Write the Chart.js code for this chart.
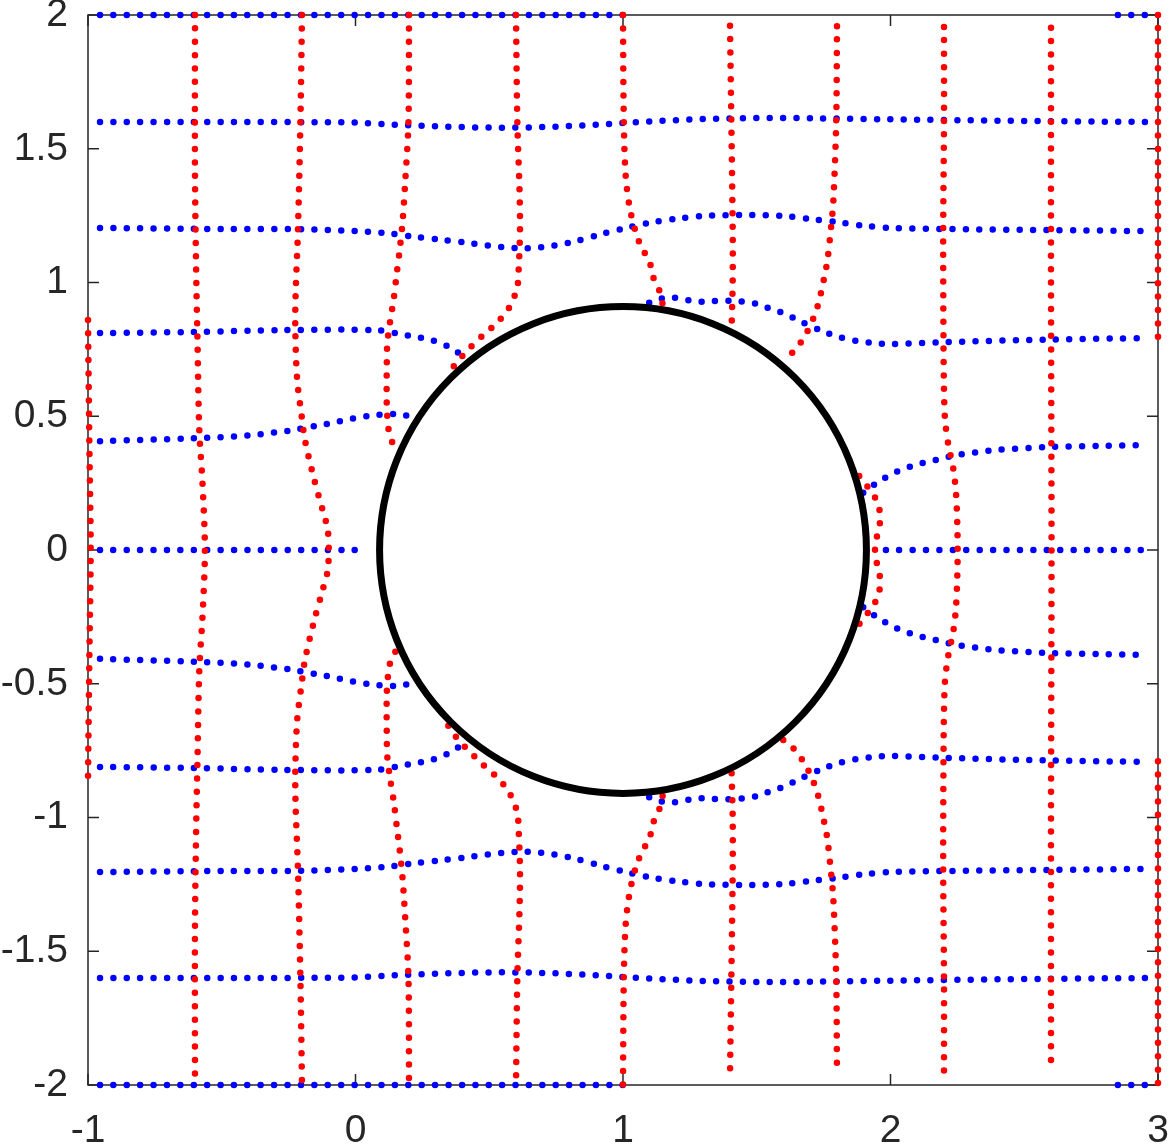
<!DOCTYPE html>
<html>
<head>
<meta charset="utf-8">
<script src="https://cdn.jsdelivr.net/npm/chart.js@4.4.1/dist/chart.umd.min.js"></script>
<style>
  html, body { margin: 0; padding: 0; background: #ffffff; }
  #wrap { width: 1169px; height: 1146px; }
</style>
</head>
<body>
<div id="wrap"><canvas id="c" width="1169" height="1146"></canvas></div>
<script>
// ---------------- axis ticks ----------------
const xTickValues = [-1, 0, 1, 2, 3];
const xTickLabels = ['-1', '0', '1', '2', '3'];
const yTickValues = [-2, -1.5, -1, -0.5, 0, 0.5, 1, 1.5, 2];
const yTickLabels = ['-2', '-1.5', '-1', '-0.5', '0', '0.5', '1', '1.5', '2'];

// ---------------- obstacle circle ----------------
const circleCenter = [1, 0];
const circleRadius = 0.91;

// ---------------- blue curves (images of horizontal grid lines) ----------------
const blueP20a = [[-0.955, 2], [1.0, 2]];
const blueP20b = [[2.85, 2], [2.955, 2]];
const blueP16 = [[-0.955, 1.6], [-0.5, 1.6], [0, 1.598], [0.1, 1.592], [0.3, 1.584], [0.5, 1.579], [0.7, 1.581], [0.9, 1.59], [1.1, 1.602], [1.3, 1.611], [1.5, 1.615], [1.7, 1.614], [2.0, 1.61], [2.4, 1.605], [2.955, 1.6]];
const blueP12 = [[-0.955, 1.204], [-0.5, 1.2], [-0.2, 1.199], [0, 1.192], [0.12, 1.184], [0.22, 1.171], [0.33, 1.159], [0.43, 1.147], [0.55, 1.132], [0.62, 1.128], [0.69, 1.131], [0.81, 1.151], [0.92, 1.181], [1.02, 1.206], [1.11, 1.225], [1.2, 1.238], [1.3, 1.249], [1.45, 1.252], [1.6, 1.249], [1.7, 1.237], [1.8, 1.226], [1.9, 1.212], [2.0, 1.204], [2.2, 1.2], [2.6, 1.196], [2.955, 1.192]];
const blueP08a = [[-0.955, 0.811], [-0.6, 0.815], [-0.27, 0.822], [0.08, 0.822], [0.166, 0.807], [0.206, 0.8], [0.245, 0.793], [0.282, 0.785], [0.316, 0.774], [0.347, 0.76], [0.375, 0.744], [0.401, 0.725], [0.416, 0.71]];
const blueP08b = [[1.098, 0.924], [1.12, 0.935], [1.163, 0.943], [1.191, 0.943], [1.219, 0.938], [1.254, 0.932], [1.294, 0.928], [1.334, 0.93], [1.37, 0.932], [1.405, 0.932], [1.437, 0.93], [1.471, 0.926], [1.505, 0.918], [1.537, 0.907], [1.574, 0.895], [1.613, 0.879], [1.654, 0.859], [1.751, 0.816], [1.809, 0.796], [1.872, 0.782], [1.936, 0.774], [1.999, 0.77], [2.2, 0.777], [2.6, 0.787], [2.955, 0.792]];
const blueP04a = [[-0.955, 0.407], [-0.6, 0.418], [-0.4, 0.428], [-0.282, 0.442], [-0.245, 0.446], [-0.151, 0.464], [-0.108, 0.471], [-0.064, 0.48], [-0.024, 0.489], [0.014, 0.496], [0.05, 0.501], [0.085, 0.505], [0.119, 0.507], [0.151, 0.508], [0.185, 0.504], [0.216, 0.495]];
const blueP04b = [[1.898, 0.214], [1.945, 0.249], [1.976, 0.268], [2.01, 0.287], [2.05, 0.302], [2.092, 0.318], [2.135, 0.329], [2.179, 0.339], [2.25, 0.355], [2.4, 0.374], [2.6, 0.385], [2.8, 0.389], [2.96, 0.392]];
const blueP00a = [[-0.955, 0], [0.0, 0]];
const blueP00b = [[1.983, 0], [2.96, 0]];
const blueN04a = [[-0.955, -0.407], [-0.6, -0.418], [-0.4, -0.428], [-0.282, -0.442], [-0.245, -0.446], [-0.151, -0.464], [-0.108, -0.471], [-0.064, -0.48], [-0.024, -0.489], [0.014, -0.496], [0.05, -0.501], [0.085, -0.505], [0.119, -0.507], [0.151, -0.508], [0.185, -0.504], [0.216, -0.495]];
const blueN04b = [[1.898, -0.214], [1.945, -0.249], [1.976, -0.268], [2.01, -0.287], [2.05, -0.302], [2.092, -0.318], [2.135, -0.329], [2.179, -0.339], [2.25, -0.355], [2.4, -0.374], [2.6, -0.385], [2.8, -0.389], [2.96, -0.392]];
const blueN08a = [[-0.955, -0.811], [-0.6, -0.815], [-0.27, -0.822], [0.08, -0.822], [0.166, -0.807], [0.206, -0.8], [0.245, -0.793], [0.282, -0.785], [0.316, -0.774], [0.347, -0.76], [0.375, -0.744], [0.401, -0.725], [0.416, -0.71]];
const blueN08b = [[1.098, -0.924], [1.12, -0.935], [1.163, -0.943], [1.191, -0.943], [1.219, -0.938], [1.254, -0.932], [1.294, -0.928], [1.334, -0.93], [1.37, -0.932], [1.405, -0.932], [1.437, -0.93], [1.471, -0.926], [1.505, -0.918], [1.537, -0.907], [1.574, -0.895], [1.613, -0.879], [1.654, -0.859], [1.751, -0.816], [1.809, -0.796], [1.872, -0.782], [1.936, -0.774], [1.999, -0.77], [2.2, -0.777], [2.6, -0.787], [2.955, -0.792]];
const blueN12 = [[-0.955, -1.204], [-0.5, -1.2], [-0.2, -1.199], [0, -1.192], [0.12, -1.184], [0.22, -1.171], [0.33, -1.159], [0.43, -1.147], [0.55, -1.132], [0.62, -1.128], [0.69, -1.131], [0.81, -1.151], [0.92, -1.181], [1.02, -1.206], [1.11, -1.225], [1.2, -1.238], [1.3, -1.249], [1.45, -1.252], [1.6, -1.249], [1.7, -1.237], [1.8, -1.226], [1.9, -1.212], [2.0, -1.204], [2.2, -1.2], [2.6, -1.196], [2.955, -1.192]];
const blueN16 = [[-0.955, -1.6], [-0.5, -1.6], [0, -1.598], [0.1, -1.592], [0.3, -1.584], [0.5, -1.579], [0.7, -1.581], [0.9, -1.59], [1.1, -1.602], [1.3, -1.611], [1.5, -1.615], [1.7, -1.614], [2.0, -1.61], [2.4, -1.605], [2.955, -1.6]];
const blueN20a = [[-0.955, -2], [1.0, -2]];
const blueN20b = [[2.85, -2], [2.955, -2]];

// ---------------- red curves (images of vertical grid lines) ----------------
const redM10 = [[-1, 0.86], [-0.995, 0.4], [-0.99, 0], [-0.995, -0.4], [-1, -0.86]];
const redM06 = [[-0.6, 2], [-0.6, 1.4], [-0.595, 1.0], [-0.591, 0.8], [-0.584, 0.45], [-0.572, 0.25], [-0.563, 0], [-0.572, -0.25], [-0.584, -0.45], [-0.591, -0.8], [-0.595, -1.0], [-0.6, -1.4], [-0.6, -2]];
const redM02 = [[-0.2, 2], [-0.206, 1.6], [-0.215, 1.2], [-0.224, 0.95], [-0.225, 0.82], [-0.218, 0.636], [-0.201, 0.498], [-0.189, 0.411], [-0.154, 0.262], [-0.123, 0.15], [-0.104, 0.077], [-0.1, 0], [-0.104, -0.077], [-0.123, -0.15], [-0.154, -0.262], [-0.189, -0.411], [-0.201, -0.498], [-0.218, -0.636], [-0.225, -0.82], [-0.224, -0.95], [-0.215, -1.2], [-0.206, -1.6], [-0.2, -2]];
const redP02a = [[0.2, 2], [0.198, 1.6], [0.186, 1.379], [0.176, 1.227], [0.166, 1.128], [0.154, 1.032], [0.143, 0.94], [0.129, 0.852], [0.119, 0.773], [0.117, 0.7], [0.117, 0.535], [0.123, 0.455], [0.129, 0.424], [0.139, 0.399], [0.149, 0.38]];
const redP02b = [[0.149, -0.38], [0.139, -0.399], [0.129, -0.424], [0.123, -0.455], [0.117, -0.535], [0.117, -0.7], [0.119, -0.773], [0.129, -0.852], [0.143, -0.94], [0.154, -1.032], [0.166, -1.128], [0.176, -1.227], [0.186, -1.379], [0.198, -1.6], [0.2, -2]];
const redP06a = [[0.6, 2], [0.605, 1.6], [0.613, 1.35], [0.615, 1.2], [0.61, 1.05], [0.604, 0.979], [0.571, 0.9], [0.523, 0.844], [0.48, 0.806], [0.448, 0.775], [0.421, 0.75], [0.399, 0.725], [0.382, 0.707], [0.366, 0.685], [0.347, 0.657]];
const redP06b = [[0.347, -0.657], [0.366, -0.685], [0.382, -0.707], [0.399, -0.725], [0.421, -0.75], [0.448, -0.775], [0.48, -0.806], [0.523, -0.844], [0.571, -0.9], [0.604, -0.979], [0.61, -1.05], [0.615, -1.2], [0.613, -1.35], [0.605, -1.6], [0.6, -2]];
const redP10a = [[1.0, 2], [1.003, 1.6], [1.01, 1.4], [1.025, 1.28], [1.05, 1.18], [1.075, 1.12], [1.098, 1.084], [1.111, 1.024], [1.128, 0.991], [1.138, 0.962], [1.148, 0.92]];
const redP10b = [[1.148, -0.92], [1.138, -0.962], [1.128, -0.991], [1.111, -1.024], [1.098, -1.084], [1.075, -1.12], [1.05, -1.18], [1.025, -1.28], [1.01, -1.4], [1.003, -1.6], [1.0, -2]];
const redP14a = [[1.4, 1.96], [1.405, 1.6], [1.41, 1.2], [1.41, 1.0], [1.406, 0.835]];
const redP14b = [[1.406, -0.835], [1.41, -1.0], [1.41, -1.2], [1.405, -1.6], [1.4, -1.96]];
const redP18a = [[1.8, 1.958], [1.797, 1.6], [1.786, 1.3], [1.775, 1.18], [1.764, 1.08], [1.755, 1.032], [1.745, 0.984], [1.734, 0.935], [1.72, 0.888], [1.699, 0.837], [1.673, 0.789], [1.64, 0.745], [1.599, 0.71]];
const redP18b = [[1.883, 0.277], [1.898, 0.255], [1.92, 0.23], [1.936, 0.209], [1.948, 0.183], [1.957, 0.158], [1.961, 0.133], [1.961, 0.106], [1.956, 0.077], [1.948, 0.044], [1.942, 0], [1.948, -0.044], [1.956, -0.077], [1.961, -0.106], [1.961, -0.133], [1.957, -0.158], [1.948, -0.183], [1.936, -0.209], [1.92, -0.23], [1.898, -0.255], [1.883, -0.277]];
const redP18c = [[1.599, -0.71], [1.64, -0.745], [1.673, -0.789], [1.699, -0.837], [1.72, -0.888], [1.734, -0.935], [1.745, -0.984], [1.755, -1.032], [1.764, -1.08], [1.775, -1.18], [1.786, -1.3], [1.797, -1.6], [1.8, -1.958]];
const redP22 = [[2.2, 1.955], [2.2, 1.6], [2.197, 1.2], [2.198, 0.8], [2.2, 0.6], [2.204, 0.486], [2.216, 0.395], [2.235, 0.302], [2.245, 0.212], [2.25, 0.087], [2.251, 0], [2.25, -0.087], [2.245, -0.212], [2.235, -0.302], [2.216, -0.395], [2.204, -0.486], [2.2, -0.6], [2.198, -0.8], [2.197, -1.2], [2.2, -1.6], [2.2, -1.955]];
const redP26 = [[2.6, 1.952], [2.6, 1.0], [2.602, 0], [2.6, -1.0], [2.6, -1.952]];
const redP30a = [[3, 2], [3, 0.79]];
const redP30b = [[3, -0.79], [3, -2]];

const blueCurves = [blueP20a, blueP20b, blueP16, blueP12, blueP08a, blueP08b, blueP04a, blueP04b, blueP00a, blueP00b,
  blueN04a, blueN04b, blueN08a, blueN08b, blueN12, blueN16, blueN20a, blueN20b];
const redCurves = [redM10, redM06, redM02, redP02a, redP02b, redP06a, redP06b, redP10a, redP10b, redP14a, redP14b,
  redP18a, redP18b, redP18c, redP22, redP26, redP30a, redP30b];

const BLUE = '#0000ff';
const RED = '#ff0000';
const AXIS = '#262626';

function makeDataset(curve, color, order) {
  return {
    data: curve.map(([x, y]) => ({ x, y })),
    showLine: true,
    borderColor: color,
    backgroundColor: color,
    borderWidth: 6.5,
    borderDash: [0, 13.4],
    borderCapStyle: 'round',
    borderJoinStyle: 'round',
    tension: 0.3,
    pointRadius: 0,
    pointHoverRadius: 0,
    clip: false,
    order: order
  };
}

const datasets = [
  ...redCurves.map(c => makeDataset(c, RED, 0)),
  ...blueCurves.map(c => makeDataset(c, BLUE, 1))
];

const framePlugin = {
  id: 'frame',
  beforeDatasetsDraw(chart) {
    const { ctx, chartArea: a, scales } = chart;
    const xs = scales.x, ys = scales.y;
    ctx.save();
    ctx.strokeStyle = AXIS;
    ctx.lineWidth = 1.5;
    ctx.strokeRect(a.left, a.top, a.right - a.left, a.bottom - a.top);
    const L = 11;
    ctx.beginPath();
    xTickValues.forEach(v => {
      const px = xs.getPixelForValue(v);
      ctx.moveTo(px, a.bottom); ctx.lineTo(px, a.bottom - L);
      ctx.moveTo(px, a.top); ctx.lineTo(px, a.top + L);
    });
    yTickValues.forEach(v => {
      const py = ys.getPixelForValue(v);
      ctx.moveTo(a.left, py); ctx.lineTo(a.left + L, py);
      ctx.moveTo(a.right, py); ctx.lineTo(a.right - L, py);
    });
    ctx.stroke();
    ctx.restore();
  },
  afterDatasetsDraw(chart) {
    const { ctx, scales } = chart;
    const xs = scales.x, ys = scales.y;
    const cx = xs.getPixelForValue(circleCenter[0]);
    const cy = ys.getPixelForValue(circleCenter[1]);
    const r = xs.getPixelForValue(circleCenter[0] + circleRadius) - cx;
    ctx.save();
    ctx.beginPath();
    ctx.arc(cx, cy, r, 0, Math.PI * 2);
    ctx.strokeStyle = '#000000';
    ctx.lineWidth = 7;
    ctx.stroke();
    ctx.restore();
  }
};

const tickFont = { family: "'Liberation Sans', Arial, Helvetica, sans-serif", size: 39 };

new Chart(document.getElementById('c'), {
  type: 'scatter',
  data: { datasets },
  options: {
    responsive: false,
    animation: false,
    devicePixelRatio: 1,
    layout: { padding: { top: 15, right: 11, left: 0, bottom: 0 } },
    plugins: { legend: { display: false }, tooltip: { enabled: false } },
    events: [],
    scales: {
      x: {
        type: 'linear', min: -1, max: 3,
        grid: { display: false, drawTicks: false },
        border: { display: false },
        afterBuildTicks: s => { s.ticks = xTickValues.map(v => ({ value: v })); },
        ticks: {
          autoSkip: false, maxRotation: 0, minRotation: 0,
          color: AXIS, font: tickFont, padding: 23,
          callback: (v, i) => xTickLabels[i]
        },
        afterFit: s => { s.height = 61; s.paddingLeft = 0; s.paddingRight = 0; }
      },
      y: {
        type: 'linear', min: -2, max: 2,
        grid: { display: false, drawTicks: false },
        border: { display: false },
        afterBuildTicks: s => { s.ticks = yTickValues.map(v => ({ value: v })); },
        ticks: {
          autoSkip: false,
          color: AXIS, font: tickFont, padding: 20,
          callback: (v, i) => yTickLabels[i]
        },
        afterFit: s => { s.width = 88; s.paddingTop = 0; s.paddingBottom = 0; }
      }
    }
  },
  plugins: [framePlugin]
});
</script>
</body>
</html>
